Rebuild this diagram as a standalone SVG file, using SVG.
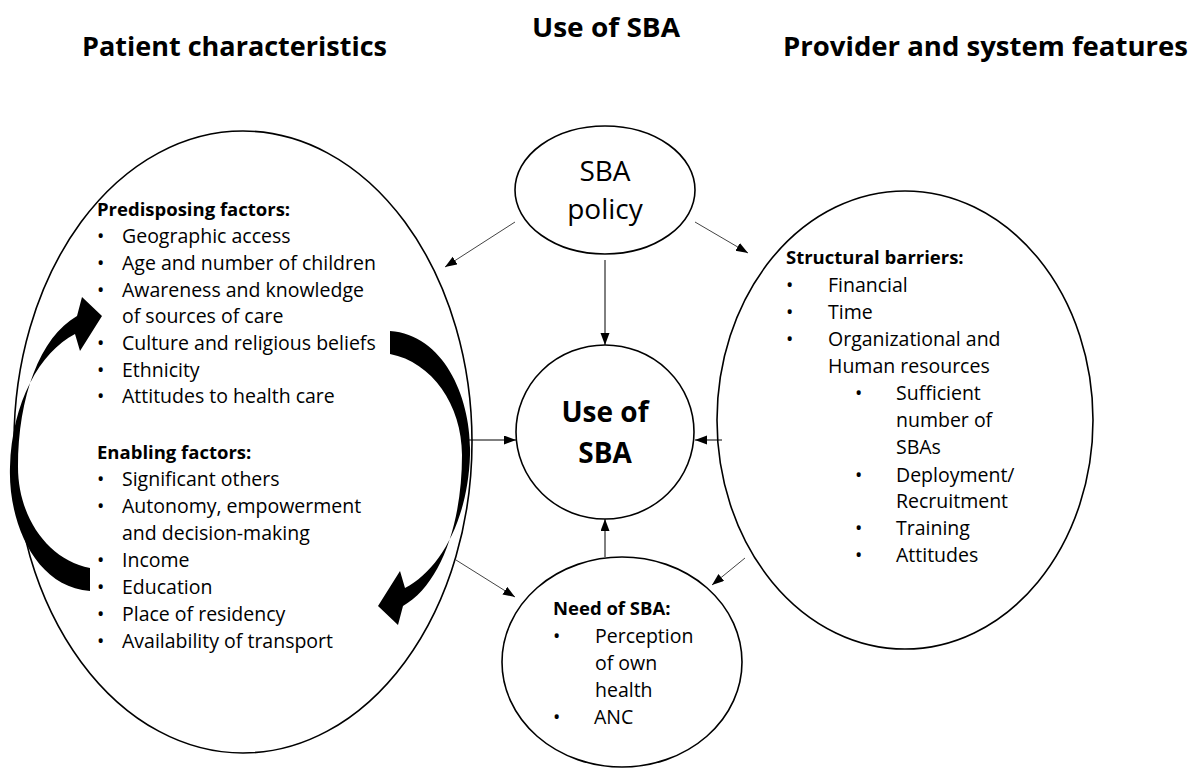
<svg xmlns="http://www.w3.org/2000/svg" width="1196" height="768" viewBox="0 0 1196 768">
<style>
.node{fill:#fff;stroke:#000;stroke-width:1.6}
.t{font-family:"Open Sans","Noto Sans",sans-serif;font-size:19.5px;fill:#000}
.b{font-family:"Open Sans","Noto Sans",sans-serif;font-size:18.5px;font-weight:bold;fill:#000}
.h{font-family:"Open Sans","Noto Sans",sans-serif;font-size:27px;font-weight:bold;fill:#000}
.big{font-family:"Open Sans","Noto Sans",sans-serif;font-size:28px;fill:#000;text-anchor:middle}
.bigb{font-family:"Open Sans","Noto Sans",sans-serif;font-size:28px;font-weight:bold;fill:#000;text-anchor:middle}
.c{stroke:#000;stroke-width:1;fill:none;marker-end:url(#ah)}
.cg{stroke:#444;stroke-width:1;fill:none;marker-end:url(#ah)}
.curve{fill:#000;stroke:none}
</style>
<defs>
<marker id="ah" markerUnits="userSpaceOnUse" markerWidth="13" markerHeight="10" refX="12" refY="4.5" orient="auto">
<path d="M0,0 L12,4.5 L0,9 Z" fill="#000"/>
</marker>
<path id="carrow" d="M390 331 C445 335 472 400 470 455 C468 520 440 570 405 588 L400 571 L378 606 L398 625 L403 606 C440 585 462 525 462 455 C462 405 432 362 390 354 Z"/>
</defs>
<rect width="1196" height="768" fill="#fff"/>

<g id="titles">
<text class="h" x="82" y="56" textLength="305" lengthAdjust="spacingAndGlyphs">Patient characteristics</text>
<text class="h" x="532" y="37" textLength="148" lengthAdjust="spacingAndGlyphs">Use of SBA</text>
<text class="h" x="783" y="56" textLength="405" lengthAdjust="spacingAndGlyphs">Provider and system features</text>
</g>

<g id="patient">
<ellipse class="node" cx="243" cy="442" rx="229" ry="311"/>
<text class="b" x="97" y="216">Predisposing factors:</text>
<g class="t">
<text x="97" y="243">•</text><text x="122" y="243">Geographic access</text>
<text x="97" y="270">•</text><text x="122" y="270">Age and number of children</text>
<text x="97" y="297">•</text><text x="122" y="297">Awareness and knowledge</text>
<text x="122" y="323">of sources of care</text>
<text x="97" y="350">•</text><text x="122" y="350">Culture and religious beliefs</text>
<text x="97" y="377">•</text><text x="122" y="377">Ethnicity</text>
<text x="97" y="403">•</text><text x="122" y="403">Attitudes to health care</text>
</g>
<text class="b" x="97" y="459">Enabling factors:</text>
<g class="t">
<text x="97" y="486">•</text><text x="122" y="486">Significant others</text>
<text x="97" y="513">•</text><text x="122" y="513">Autonomy, empowerment</text>
<text x="122" y="540">and decision-making</text>
<text x="97" y="567">•</text><text x="122" y="567">Income</text>
<text x="97" y="594">•</text><text x="122" y="594">Education</text>
<text x="97" y="621">•</text><text x="122" y="621">Place of residency</text>
<text x="97" y="648">•</text><text x="122" y="648">Availability of transport</text>
</g>
</g>

<g id="policy">
<ellipse class="node" cx="605" cy="190" rx="90" ry="64"/>
<text class="big" x="605" y="181">SBA</text>
<text class="big" x="605" y="219">policy</text>
</g>

<g id="use">
<ellipse class="node" cx="605" cy="432" rx="89" ry="87"/>
<text class="bigb" x="605" y="422">Use of</text>
<text class="bigb" x="605" y="463">SBA</text>
</g>

<g id="provider">
<ellipse class="node" cx="905" cy="420" rx="188" ry="229"/>
<text class="b" x="786" y="264">Structural barriers:</text>
<g class="t">
<text x="786" y="292">•</text><text x="828" y="292">Financial</text>
<text x="786" y="319">•</text><text x="828" y="319">Time</text>
<text x="786" y="346">•</text><text x="828" y="346">Organizational and</text>
<text x="828" y="373">Human resources</text>
<text x="855" y="400">•</text><text x="896" y="400">Sufficient</text>
<text x="896" y="427">number of</text>
<text x="896" y="454">SBAs</text>
<text x="855" y="482">•</text><text x="896" y="482">Deployment/</text>
<text x="896" y="508">Recruitment</text>
<text x="855" y="535">•</text><text x="896" y="535">Training</text>
<text x="855" y="562">•</text><text x="896" y="562">Attitudes</text>
</g>
</g>

<g id="need">
<ellipse class="node" cx="622" cy="662" rx="120" ry="105"/>
<text class="b" x="553" y="615">Need of SBA:</text>
<g class="t">
<text x="553" y="643">•</text><text x="595" y="643">Perception</text>
<text x="595" y="670">of own</text>
<text x="595" y="697">health</text>
<text x="553" y="724">•</text><text x="594" y="724">ANC</text>
</g>
</g>

<g id="connectors">
<path class="cg" d="M515 222 L445 267"/>
<path class="cg" d="M695 222 L748 253"/>
<path class="c" d="M605 260 L605 345"/>
<path class="c" d="M468 440 L516 440"/>
<path class="c" d="M722 440 L695 440"/>
<path class="c" d="M605 557 L605 519"/>
<path class="cg" d="M456 560 L515 597"/>
<path class="cg" d="M745 558 L712 585"/>
<use href="#carrow" class="curve"/>
<use href="#carrow" class="curve" transform="rotate(180 240 461)"/>
</g>
</svg>
